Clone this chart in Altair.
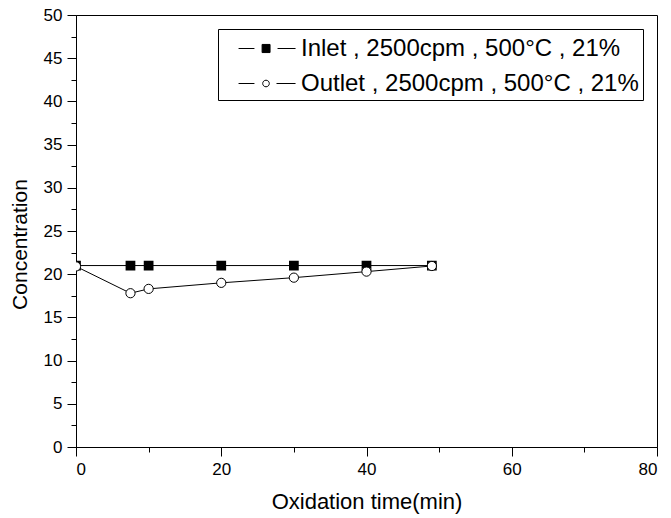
import altair as alt
import pandas as pd

# ---- data ----
time_inlet = [0, 7.5, 10, 20, 30, 40, 49]
conc_inlet = [21.0, 21.0, 21.0, 21.0, 21.0, 21.0, 21.0]
time_outlet = [0, 7.5, 10, 20, 30, 40, 49]
conc_outlet = [20.9, 17.8, 18.3, 19.0, 19.6, 20.3, 20.95]
series_names = ["Inlet , 2500cpm , 500°C , 21%", "Outlet , 2500cpm , 500°C , 21%"]
x_tick_values = [0, 10, 20, 30, 40, 50, 60, 70, 80]
y_tick_values = [0, 2.5, 5, 7.5, 10, 12.5, 15, 17.5, 20, 22.5, 25, 27.5, 30,
                 32.5, 35, 37.5, 40, 42.5, 45, 47.5, 50]

df = pd.concat([
    pd.DataFrame({"time": time_inlet, "conc": conc_inlet, "series": series_names[0]}),
    pd.DataFrame({"time": time_outlet, "conc": conc_outlet, "series": series_names[1]}),
], ignore_index=True)

FONT = "Liberation Sans"

# legend symbols: line - marker - line (custom paths)
path_inlet = ("M 0.07 0 L 1.13 0 M 2.67 0 L 3.87 0 "
              "M 1.64 -0.27 L 2.17 -0.27 L 2.17 0.27 L 1.64 0.27 Z")
path_outlet = ("M 0.07 0 L 1.13 0 M 2.6 0 L 3.87 0 "
               "M 2.12 0 A 0.22 0.22 0 1 1 1.68 0 A 0.22 0.22 0 1 1 2.12 0 Z")

x_enc = alt.X(
    "time:Q",
    scale=alt.Scale(domain=[0, 80], nice=False, zero=False),
    axis=alt.Axis(
        values=x_tick_values,
        labelExpr="datum.value % 20 == 0 ? datum.label : ''",
        tickSize={"condition": {"test": "datum.value % 20 != 0", "value": 5}, "value": 9},
        title="Oxidation time(min)",
        titleFontSize=22,
        titlePadding=14,
        labelPadding=5,
    ),
)
y_enc = alt.Y(
    "conc:Q",
    scale=alt.Scale(domain=[0, 50], nice=False, zero=False),
    axis=alt.Axis(
        values=y_tick_values,
        labelExpr="datum.value % 5 == 0 ? datum.label : ''",
        tickSize={"condition": {"test": "datum.value % 5 != 0", "value": 5}, "value": 9},
        title="Concentration",
        titleFontSize=21,
        titlePadding=13,
        titleY=229,
        labelPadding=5,
    ),
)

base = alt.Chart(df).encode(x=x_enc, y=y_enc)

lines = base.mark_line(color="black", strokeWidth=1, clip=True).encode(detail="series:N")

inlet_pts = base.transform_filter(alt.datum.series == series_names[0]).mark_point(
    shape="square", filled=True, fill="black", stroke="black", size=60, opacity=1, clip=True
)
outlet_pts = base.transform_filter(alt.datum.series == series_names[1]).mark_point(
    shape="circle", filled=True, fill="white", stroke="black", strokeWidth=1,
    size=85, opacity=1, clip=True
)

legend_layer = base.mark_point(opacity=0, strokeWidth=1, clip=True).encode(
    shape=alt.Shape("series:N", scale=alt.Scale(domain=series_names, range=[path_inlet, path_outlet]),
                    legend=alt.Legend(title=None)),
    fill=alt.Fill("series:N", scale=alt.Scale(domain=series_names, range=["black", "white"]),
                  legend=alt.Legend(title=None)),
    stroke=alt.Stroke("series:N", scale=alt.Scale(domain=series_names, range=["black", "black"]),
                      legend=alt.Legend(title=None)),
)

chart = alt.layer(lines, inlet_pts, outlet_pts, legend_layer).properties(
    width=581,
    height=432,
    autosize=alt.AutoSizeParams(type="none"),
    padding={"left": 76, "top": 15, "right": 14, "bottom": 71},
    background="white",
).configure_view(
    stroke="black", strokeWidth=1
).configure_axis(
    grid=False,
    domainColor="black",
    domainWidth=1,
    tickColor="black",
    tickWidth=1,
    labelColor="black",
    titleColor="black",
    labelFont=FONT,
    titleFont=FONT,
    labelFontSize=17,
    titleFontWeight="normal",
).configure_legend(
    orient="none",
    legendX=142,
    legendY=14,
    padding=4,
    rowPadding=7,
    strokeColor="black",
    fillColor="white",
    labelFont=FONT,
    labelFontSize=24,
    labelColor="black",
    labelOffset=48,
    labelLimit=600,
    symbolSize=900,
    symbolStrokeColor="black",
    symbolStrokeWidth=1,
    symbolOpacity=1,
)

chart.save("out.html", embed_options={"renderer": "svg", "actions": False})
